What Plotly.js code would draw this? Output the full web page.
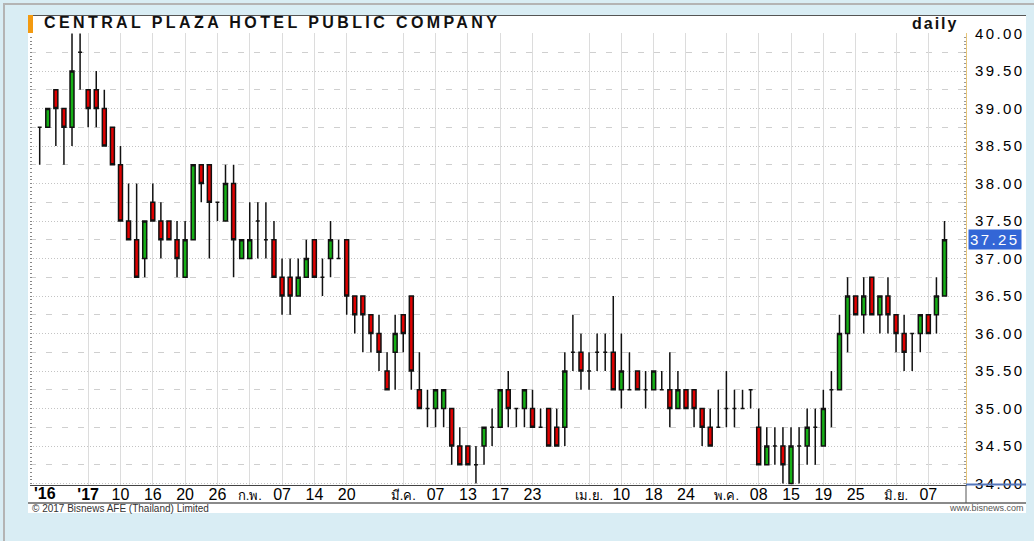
<!DOCTYPE html>
<html>
<head>
<meta charset="utf-8">
<script src="https://cdn.plot.ly/plotly-3.0.1.min.js"></script>
<style>
html,body{margin:0;padding:0;width:1034px;height:541px;overflow:hidden;background:#d9edf4;}
#frame{position:absolute;left:3px;top:3px;width:1040px;height:560px;border-top:2px solid #b4b4b4;border-left:2px solid #b4b4b4;}
#panel{position:absolute;left:28px;top:15px;width:998px;height:497px;background:#fff;border-top:1px solid #555;}
#bar{position:absolute;left:28px;top:15px;width:5px;height:18px;background:#f39a10;}
#chart{position:absolute;left:0;top:0;width:1034px;height:541px;}
.ytick text{letter-spacing:2.4px;}
</style>
</head>
<body>
<div id="frame"></div>
<div id="panel"></div>
<div id="bar"></div>
<div id="chart"></div>
<script>
// ---- data ----
const dates = [
 '2016-12-23','2016-12-26','2016-12-27','2016-12-28','2016-12-29','2016-12-30',
 '2017-01-04','2017-01-05','2017-01-06','2017-01-09','2017-01-10','2017-01-11','2017-01-12','2017-01-13','2017-01-16','2017-01-17',
 '2017-01-18','2017-01-19','2017-01-20','2017-01-23','2017-01-24','2017-01-25','2017-01-26','2017-01-27','2017-01-30','2017-01-31',
 '2017-02-01','2017-02-02','2017-02-03','2017-02-06','2017-02-07','2017-02-08','2017-02-09','2017-02-10','2017-02-14','2017-02-15',
 '2017-02-16','2017-02-17','2017-02-20','2017-02-21','2017-02-22','2017-02-23','2017-02-24','2017-02-27','2017-02-28',
 '2017-03-01','2017-03-02','2017-03-03','2017-03-06','2017-03-07','2017-03-08','2017-03-09','2017-03-10','2017-03-13','2017-03-14',
 '2017-03-15','2017-03-16','2017-03-17','2017-03-20','2017-03-21','2017-03-22','2017-03-23','2017-03-24','2017-03-27','2017-03-28',
 '2017-03-29','2017-03-30','2017-03-31',
 '2017-04-03','2017-04-04','2017-04-05','2017-04-07','2017-04-10','2017-04-11','2017-04-12','2017-04-17','2017-04-18','2017-04-19',
 '2017-04-20','2017-04-21','2017-04-24','2017-04-25','2017-04-26','2017-04-27','2017-04-28',
 '2017-05-02','2017-05-03','2017-05-04','2017-05-05','2017-05-08','2017-05-09','2017-05-11','2017-05-12','2017-05-15','2017-05-16',
 '2017-05-17','2017-05-18','2017-05-19','2017-05-22','2017-05-23','2017-05-24','2017-05-25','2017-05-26','2017-05-29','2017-05-30','2017-05-31',
 '2017-06-01','2017-06-02','2017-06-05','2017-06-06','2017-06-07','2017-06-08','2017-06-09'
];
const openP = [
 38.75,38.75,39.25,39.0,38.75,39.75,39.25,39.25,39.0,38.75,
 38.25,37.5,37.25,37.0,37.75,37.5,37.5,37.25,36.75,37.25,
 38.25,38.25,37.75,37.5,38.0,37.0,37.0,37.5,37.25,37.25,
 36.75,36.75,36.5,36.75,37.25,36.75,37.0,37.0,37.25,36.5,
 36.5,36.25,36.0,35.5,35.75,36.25,36.5,35.25,35.0,35.0,
 35.0,35.0,34.5,34.5,34.25,34.5,34.75,34.75,35.25,35.0,
 35.0,35.0,34.75,35.0,34.75,34.75,35.75,35.75,35.5,35.75,
 35.75,35.75,35.25,35.25,35.5,35.25,35.25,35.25,35.25,35.0,
 35.25,35.25,35.0,34.75,34.75,35.0,35.0,35.0,35.25,34.75,
 34.25,34.5,34.5,34.0,34.5,34.5,34.75,34.5,35.25,35.25,
 36.0,36.5,36.25,36.75,36.25,36.5,36.25,36.0,36.0,36.0,
 36.25,36.25,36.5
];
const highP = [
 38.75,39.0,39.25,39.0,40.0,40.0,39.25,39.5,39.25,38.75,
 38.5,38.0,38.0,37.5,38.0,37.75,37.5,37.5,37.5,38.25,
 38.25,38.25,37.75,38.25,38.25,37.25,37.75,37.75,37.75,37.5,
 37.0,37.0,37.0,37.25,37.25,37.0,37.5,37.25,37.25,36.5,
 36.5,36.25,36.25,35.75,36.25,36.25,36.5,35.75,35.25,35.25,
 35.25,35.0,34.75,34.5,34.5,34.75,35.0,35.25,35.5,35.0,
 35.25,35.25,35.0,35.0,35.0,35.75,36.25,36.0,35.75,36.0,
 36.0,36.5,36.0,35.75,35.5,35.5,35.5,35.5,35.75,35.5,
 35.25,35.25,35.0,35.0,35.25,35.5,35.25,35.25,35.25,35.0,
 34.75,34.75,34.75,34.75,34.75,35.0,35.0,35.25,35.5,36.25,
 36.75,36.5,36.75,36.75,36.5,36.75,36.25,36.25,36.0,36.25,
 36.25,36.75,37.5
];
const lowP = [
 38.25,38.75,38.5,38.25,38.5,39.25,38.75,38.75,38.5,38.25,
 37.5,37.25,36.75,36.75,37.5,37.0,37.25,36.75,36.75,37.25,
 37.75,37.0,37.5,37.5,36.75,37.0,37.0,37.0,37.0,36.75,
 36.25,36.25,36.5,36.75,36.75,36.5,36.75,37.0,36.25,36.0,
 35.75,35.75,35.5,35.25,35.25,35.75,35.25,35.0,34.75,34.75,
 34.75,34.25,34.25,34.25,34.0,34.25,34.5,34.75,34.75,34.75,
 34.75,34.75,34.75,34.5,34.5,34.5,35.5,35.25,35.25,35.5,
 35.5,35.25,35.0,35.25,35.25,35.0,35.25,35.25,34.75,35.0,
 35.0,34.75,34.5,34.5,34.75,34.75,34.75,35.0,35.0,34.25,
 34.25,34.25,34.0,34.0,34.0,34.25,34.25,34.5,34.75,35.25,
 35.75,36.25,36.0,36.25,36.0,36.0,35.75,35.5,35.5,35.75,
 36.0,36.0,36.5
];
const closeP = [
 38.75,39.0,39.0,38.75,39.5,39.75,39.0,39.0,38.5,38.25,
 37.5,37.25,36.75,37.5,37.5,37.25,37.25,37.0,37.25,38.25,
 38.0,37.75,37.75,38.0,37.25,37.25,37.25,37.5,37.25,36.75,
 36.5,36.5,36.75,37.0,36.75,36.75,37.25,37.0,36.5,36.25,
 36.25,36.0,35.75,35.25,36.0,36.0,35.5,35.0,35.0,35.25,
 35.25,34.5,34.25,34.25,34.25,34.75,34.75,35.25,35.0,35.0,
 35.25,34.75,34.75,34.5,34.5,35.5,35.75,35.5,35.5,35.75,
 35.75,35.25,35.5,35.25,35.25,35.25,35.5,35.25,35.0,35.25,
 35.0,35.0,34.75,34.5,34.75,35.0,35.0,35.0,35.25,34.25,
 34.5,34.5,34.25,34.5,34.5,34.75,34.75,35.0,35.25,36.0,
 36.5,36.25,36.5,36.25,36.5,36.25,36.0,35.75,36.0,36.25,
 36.0,36.5,37.25
];
const tickDates = ['2017-01-04','2017-01-10','2017-01-16','2017-01-20','2017-01-26','2017-02-01','2017-02-07','2017-02-14','2017-02-20',
 '2017-03-01','2017-03-07','2017-03-13','2017-03-17','2017-03-23','2017-04-03','2017-04-10','2017-04-18','2017-04-24',
 '2017-05-02','2017-05-08','2017-05-15','2017-05-19','2017-05-25','2017-06-01','2017-06-07'];
const tickLabels = ["'17",'10','16','20','26','ก.พ.','07','14','20','มี.ค.','07','13','17','23','เม.ย.','10','18','24','พ.ค.','08','15','19','25','มิ.ย.','07'];
const yearLabel = "'16";
const titleText = 'CENTRAL PLAZA HOTEL PUBLIC COMPANY';
const periodText = 'daily';
const footLeft = '© 2017 Bisnews AFE (Thailand) Limited';
const footRight = 'www.bisnews.com';

// ---- styling / drawing ----
const FONT = 'Liberation Sans, Arial, Helvetica, sans-serif';
const styledTicks = tickLabels.map(function(t){
  if (t.charAt(0) === "'") return '<b>' + t + '</b>';
  if (/[\u0E00-\u0E7F]/.test(t)) return '<span style="font-size:13px">' + t + '</span>';
  return t;
});

const candles = {
  type: 'candlestick', x: dates, open: openP, high: highP, low: lowP, close: closeP,
  increasing: {line: {color: '#111', width: 1.5}, fillcolor: '#16b016'},
  decreasing: {line: {color: '#111', width: 1.5}, fillcolor: '#e00000'},
  whiskerwidth: 0, hoverinfo: 'skip', showlegend: false
};
const tickR = {type: 'scatter', x: [], y: [], yaxis: 'y2', showlegend: false, hoverinfo: 'skip'};
const tickL = {type: 'scatter', x: [], y: [], yaxis: 'y3', showlegend: false, hoverinfo: 'skip'};

const yr = [33.98, 40.007];
const pxX = function(px){ return (px - 30) / 936; };
const pxY = function(py){ return (485 - py) / 452; };

const layout = {
  width: 1034, height: 541,
  margin: {l: 30, r: 68, t: 33, b: 56, pad: 0},
  paper_bgcolor: 'rgba(0,0,0,0)', plot_bgcolor: 'rgba(0,0,0,0)',
  showlegend: false, hovermode: false, boxgap: 0.3,
  xaxis: {
    type: 'category', range: [-1.2, 114.66], rangeslider: {visible: false},
    tickmode: 'array', tickvals: tickDates, ticktext: styledTicks,
    showgrid: true, gridcolor: '#dcdcdc', gridwidth: 1, ticks: '',
    tickfont: {family: FONT, size: 16, color: '#000'}, tickangle: 0,
    showline: true, linecolor: '#444', linewidth: 1, zeroline: false, fixedrange: true,
    ticklabelstandoff: -5
  },
  yaxis: {
    side: 'right', range: yr, tickmode: 'linear', tick0: 34, dtick: 0.5, tickformat: '.2f',
    tickfont: {family: FONT, size: 15, color: '#000'},
    showgrid: true, gridcolor: '#c4c4c4', griddash: '1px,2px', gridwidth: 1,
    minor: {dtick: 0.25, tick0: 34, showgrid: true, gridcolor: '#cfcfcf', griddash: '6px,10px', gridwidth: 1, ticks: ''},
    ticks: '', showline: false, zeroline: false, fixedrange: true, ticklabelstandoff: 8
  },
  yaxis2: {
    overlaying: 'y', side: 'right', anchor: 'x', range: yr, showgrid: false, zeroline: false,
    showticklabels: false, ticks: 'inside', tickmode: 'linear', tick0: 34, dtick: 0.05, ticklen: 2,
    tickcolor: '#999', tickwidth: 1, showline: true, linecolor: '#e8c67a', linewidth: 1, fixedrange: true
  },
  yaxis3: {
    overlaying: 'y', side: 'left', anchor: 'x', range: yr, showgrid: false, zeroline: false,
    showticklabels: false, ticks: 'inside', tickmode: 'linear', tick0: 34, dtick: 0.05, ticklen: 2,
    tickcolor: '#888', tickwidth: 1, showline: false, fixedrange: true
  },
  shapes: [
    {type: 'line', xref: 'paper', yref: 'paper', x0: pxX(28), x1: pxX(1026), y0: pxY(503), y1: pxY(503), line: {color: '#8a8a8a', width: 2}},
    {type: 'line', xref: 'paper', yref: 'paper', x0: 1, x1: 1, y0: 0, y1: pxY(503), line: {color: '#555', width: 1}},
    {type: 'line', xref: 'paper', yref: 'paper', x0: 1, x1: pxX(1026), y0: pxY(484.5), y1: pxY(484.5), line: {color: '#5577bb', width: 2}}
  ],
  annotations: [
    {xref: 'paper', yref: 'paper', x: pxX(42), y: pxY(22), xanchor: 'left', yanchor: 'middle', showarrow: false,
     text: '<span style="letter-spacing:3.4px">' + titleText + '</span>', font: {family: FONT, size: 16, color: '#111', weight: 700}},
    {xref: 'paper', yref: 'paper', x: pxX(960), y: pxY(24), xanchor: 'right', yanchor: 'middle', showarrow: false,
     text: '<span style="letter-spacing:2px">' + periodText + '</span>', font: {family: FONT, size: 16, color: '#111', weight: 700}},
    {xref: 'paper', yref: 'y', x: pxX(968), y: closeP[closeP.length - 1], xanchor: 'left', yanchor: 'middle', showarrow: false,
     text: '<span style="letter-spacing:2.4px">' + closeP[closeP.length - 1].toFixed(2) + '</span>',
     bgcolor: '#3366d6', borderpad: 1, font: {family: FONT, size: 15, color: '#fff'}},
    {xref: 'x', yref: 'paper', x: 0.66, y: pxY(493), xanchor: 'center', yanchor: 'middle', showarrow: false,
     text: '<b>' + yearLabel + '</b>', font: {family: FONT, size: 16, color: '#000'}},
    {xref: 'paper', yref: 'paper', x: pxX(30), y: pxY(508), xanchor: 'left', yanchor: 'middle', showarrow: false,
     text: footLeft, font: {family: FONT, size: 10, color: '#333'}},
    {xref: 'paper', yref: 'paper', x: pxX(1026), y: pxY(508), xanchor: 'right', yanchor: 'middle', showarrow: false,
     text: footRight, font: {family: FONT, size: 9, color: '#555'}}
  ]
};

Plotly.newPlot('chart', [candles, tickR, tickL], layout, {staticPlot: true, displayModeBar: false});
</script>
</body>
</html>
